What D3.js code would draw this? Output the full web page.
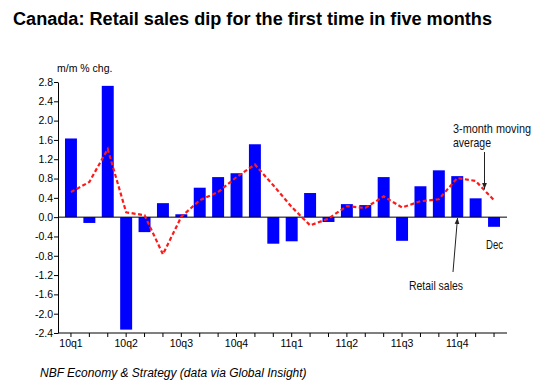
<!DOCTYPE html>
<html>
<head>
<meta charset="utf-8">
<script src="https://cdn.jsdelivr.net/npm/d3@7"></script>
<style>
  body { margin: 0; background: #fff; }
  svg { display: block; font-family: "Liberation Sans", Arial, sans-serif; }
</style>
</head>
<body>
<div id="chart"></div>
<script>
// monthly data, Jan 2010 .. Dec 2011
var months = d3.range(24);
var quarterLabels = ["10q1", "10q2", "10q3", "10q4", "11q1", "11q2", "11q3", "11q4"];
var retailSales = [1.63, -0.12, 2.72, -2.33, -0.31, 0.29, 0.06, 0.61, 0.83, 0.91, 1.51, -0.55,
                   -0.50, 0.50, -0.10, 0.27, 0.25, 0.83, -0.49, 0.64, 0.97, 0.85, 0.39, -0.20];
var movingAvg = [0.52, 0.73, 1.41, 0.10, 0.04, -0.77, 0.01, 0.35, 0.52, 0.83, 1.09, 0.66,
                 0.21, -0.17, -0.03, 0.23, 0.19, 0.43, 0.20, 0.33, 0.37, 0.81, 0.75, 0.35];
var yTicks = d3.range(-2.4, 2.81, 0.4);

var width = 554, height = 386;
var svg = d3.select("#chart").append("svg")
  .attr("width", width)
  .attr("height", height);

var x = d3.scaleBand()
  .domain(months)
  .range([58, 507])
  .paddingInner(0.35)
  .paddingOuter(0.38);

var y = d3.scaleLinear()
  .domain([-2.4, 2.8])
  .range([333, 82]);

// title
svg.append("text")
  .attr("x", 13).attr("y", 25)
  .attr("textLength", 479).attr("lengthAdjust", "spacingAndGlyphs")
  .style("font-size", "17.5px").style("font-weight", "bold")
  .text("Canada: Retail sales dip for the first time in five months");

svg.append("text")
  .attr("x", 57).attr("y", 72)
  .style("font-size", "10.5px")
  .text("m/m % chg.");

// bars
svg.append("g").selectAll("rect")
  .data(retailSales)
  .join("rect")
  .attr("x", (d, i) => x(i))
  .attr("width", x.bandwidth())
  .attr("y", d => y(Math.max(0, d)))
  .attr("height", d => Math.abs(y(d) - y(0)))
  .attr("fill", "#0000ff");

// zero line
svg.append("line")
  .attr("x1", 58).attr("x2", 507)
  .attr("y1", y(0)).attr("y2", y(0))
  .attr("stroke", "#000").attr("stroke-width", 1);

// moving average
var line = d3.line()
  .x((d, i) => x(i) + x.bandwidth() / 2)
  .y(d => y(d));
svg.append("path")
  .datum(movingAvg)
  .attr("d", line)
  .attr("fill", "none")
  .attr("stroke", "#ff1a1a")
  .attr("stroke-width", 2.2)
  .attr("stroke-dasharray", "4,2.5");

// y axis
var yAxis = d3.axisLeft(y)
  .tickValues(yTicks)
  .tickSize(4)
  .tickSizeOuter(0)
  .tickFormat(d => (Math.abs(d) < 1e-9 ? 0 : d).toFixed(1));
var gy = svg.append("g")
  .attr("transform", "translate(58,0)")
  .call(yAxis);
gy.selectAll("text").style("font-size", "10.5px").attr("x", -5);

// x axis
var xAxis = d3.axisBottom(x)
  .tickSize(4)
  .tickSizeOuter(0)
  .tickFormat(i => (i % 3 === 0 ? quarterLabels[i / 3] : ""));
var gx = svg.append("g")
  .attr("transform", "translate(0,333)")
  .call(xAxis);
gx.select(".domain").attr("d", "M58,0H507");
gx.selectAll("text").style("font-size", "10.5px").attr("y", 7);
svg.selectAll(".domain, .tick line").attr("stroke", "#000");

// annotations
var defs = svg.append("defs");
defs.append("marker")
  .attr("id", "arrow")
  .attr("viewBox", "0 0 10 10")
  .attr("refX", 10).attr("refY", 5)
  .attr("markerWidth", 6).attr("markerHeight", 6)
  .attr("orient", "auto")
  .append("path")
  .attr("d", "M0,1L10,5L0,9z")
  .attr("fill", "#222");

var ann = svg.append("g")
  .style("font-family", "'Liberation Sans Narrow', 'Arial Narrow', 'Liberation Sans', sans-serif")
  .style("font-size", "13px")
  .attr("fill", "#111");
ann.append("text").attr("x", 453).attr("y", 133)
  .attr("textLength", 78).attr("lengthAdjust", "spacingAndGlyphs").text("3-month moving");
ann.append("text").attr("x", 453).attr("y", 147)
  .attr("textLength", 38).attr("lengthAdjust", "spacingAndGlyphs").text("average");
ann.append("text").attr("x", 409).attr("y", 290)
  .attr("textLength", 54).attr("lengthAdjust", "spacingAndGlyphs").text("Retail sales");
ann.append("text").attr("x", 486).attr("y", 249)
  .attr("textLength", 17).attr("lengthAdjust", "spacingAndGlyphs").text("Dec");

svg.append("line")
  .attr("x1", 484.5).attr("y1", 152).attr("x2", 484.5).attr("y2", 189)
  .attr("stroke", "#222").attr("stroke-width", 1)
  .attr("marker-end", "url(#arrow)");
svg.append("line")
  .attr("x1", 453).attr("y1", 272).attr("x2", 457.5).attr("y2", 218)
  .attr("stroke", "#222").attr("stroke-width", 1)
  .attr("marker-end", "url(#arrow)");

// source
svg.append("text")
  .attr("x", 40).attr("y", 377)
  .style("font-size", "12px").style("font-style", "italic")
  .text("NBF Economy & Strategy (data via Global Insight)");
</script>
</body>
</html>
